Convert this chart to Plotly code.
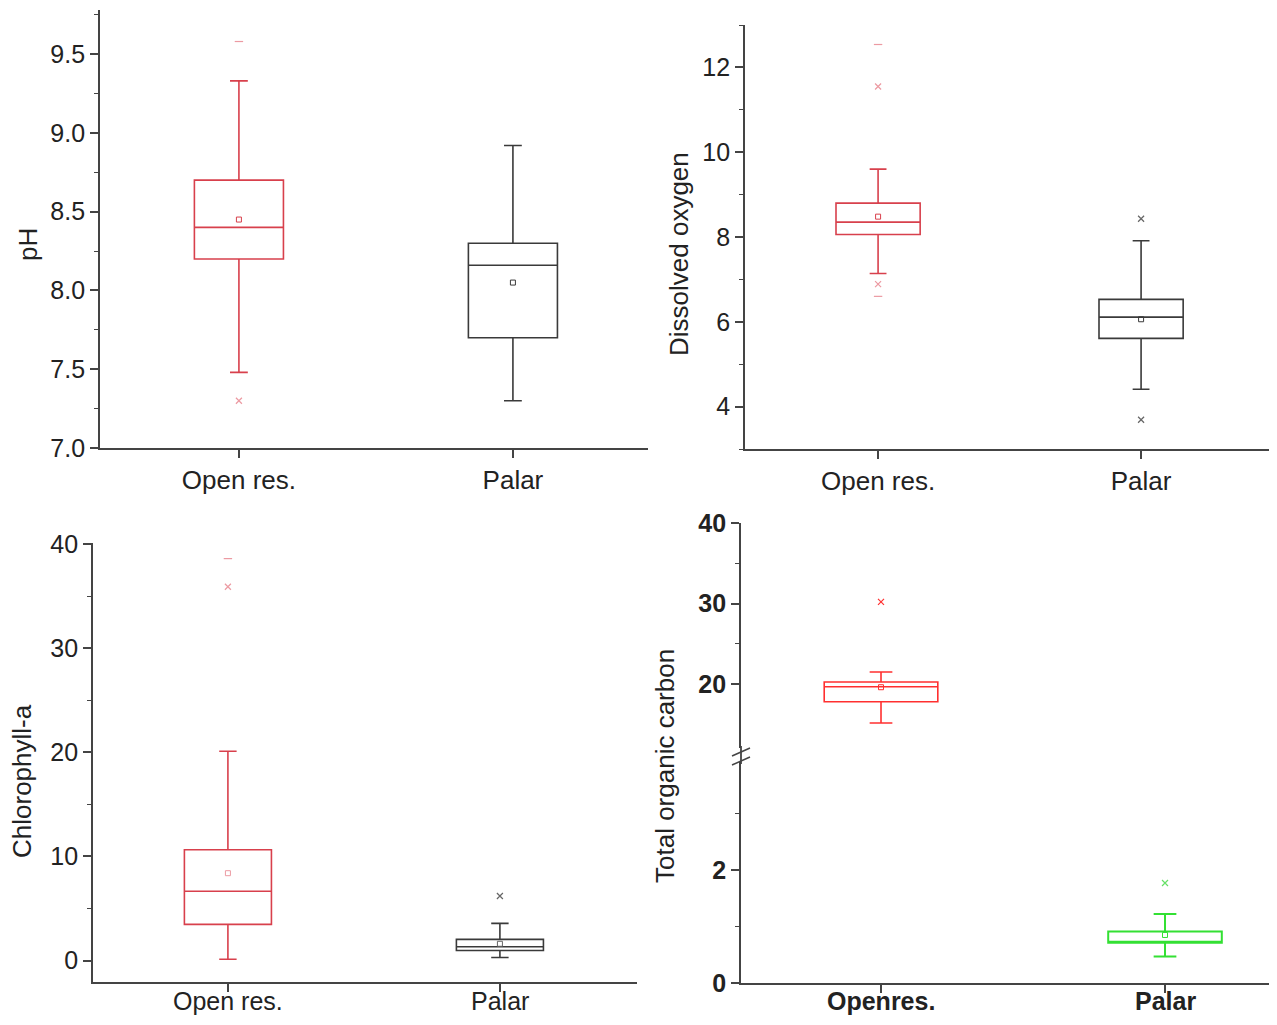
import plotly.graph_objects as go

# Reference canvas 1277x1025; the page body has an 8px margin, so the figure
# is drawn 16px smaller and all reference pixel positions are shifted by 8.
REF_W, REF_H = 1277, 1025
OFF = 8
W, H = REF_W - 2 * OFF, REF_H - 2 * OFF

# ---------------- data ----------------
categories = ["Open res.", "Palar"]
categories_toc = ["Openres.", "Palar"]

ph_q1 = [8.20, 7.70]
ph_median = [8.40, 8.16]
ph_q3 = [8.70, 8.30]
ph_lower = [7.48, 7.30]
ph_upper = [9.33, 8.92]
ph_mean = [8.45, 8.05]
ph_out_open = [7.30]
ph_ext_open = [9.58]

do_q1 = [8.06, 5.61]
do_median = [8.35, 6.11]
do_q3 = [8.80, 6.53]
do_lower = [7.14, 4.41]
do_upper = [9.60, 7.91]
do_mean = [8.48, 6.06]
do_out_open = [11.55, 6.89]
do_out_palar = [8.43, 3.69]
do_ext_open = [12.54, 6.60]

chl_q1 = [3.47, 0.96]
chl_median = [6.66, 1.32]
chl_q3 = [10.64, 2.03]
chl_lower = [0.13, 0.29]
chl_upper = [20.1, 3.57]
chl_mean = [8.39, 1.61]
chl_out_open = [35.9]
chl_out_palar = [6.2]
chl_ext_open = [38.6]

toc_q1 = [17.8, 0.71]
toc_median = [19.66, 0.71]
toc_q3 = [20.25, 0.91]
toc_lower = [15.15, 0.47]
toc_upper = [21.5, 1.22]
toc_mean = [19.6, 0.85]
toc_out_open = [30.2]
toc_out_palar = [1.77]

ph_ticks = [7.0, 7.5, 8.0, 8.5, 9.0, 9.5]
ph_ticktext = ["7.0", "7.5", "8.0", "8.5", "9.0", "9.5"]
ph_minor = [7.25, 7.75, 8.25, 8.75, 9.25, 9.75]
do_ticks = [4, 6, 8, 10, 12]
do_minor = [3, 5, 7, 9, 11, 13]
chl_ticks = [0, 10, 20, 30, 40]
chl_minor = [5, 15, 25, 35]
toc_low_ticks = [0, 2]
toc_low_minor = [1, 3]
toc_up_ticks = [20, 30, 40]
toc_up_minor = [25, 35]

# ---------------- styling ----------------
RED = "#d8404c"
RED_LIGHT = "#ec9aa2"
GREY = "#3a3a3a"
GREY_LIGHT = "#666666"
RED2 = "#ff3030"
GREEN = "#33e033"
GREEN_LIGHT = "#66e066"
AXIS = "#444444"
TXT = "#222222"
FONT = "Liberation Sans, Arial, sans-serif"


def px_x(p):
    return (p - OFF) / W


def px_y(p):
    return 1 - (p - OFF) / H


fig = go.Figure()


def add_box(cat, q1, med, q3, lo, hi, color, width, xa, ya, lw=1.6):
    fig.add_trace(go.Box(
        x=[cat], q1=[q1], median=[med], q3=[q3], lowerfence=[lo], upperfence=[hi],
        boxpoints=False, width=width, whiskerwidth=0.2,
        line=dict(color=color, width=lw), fillcolor="rgba(255,255,255,0)",
        xaxis=xa, yaxis=ya, showlegend=False, hoverinfo="skip"))


def add_pts(cats, vals, symbol, colors, size, xa, ya, lw=1.2):
    fig.add_trace(go.Scatter(
        x=cats, y=vals, mode="markers",
        marker=dict(symbol=symbol, size=size, color=colors,
                    line=dict(color=colors, width=lw)),
        xaxis=xa, yaxis=ya, showlegend=False, hoverinfo="skip"))


# Panel 1: pH
for i, (c, col) in enumerate(zip(categories, [RED, GREY])):
    add_box(c, ph_q1[i], ph_median[i], ph_q3[i], ph_lower[i], ph_upper[i], col, 0.325, "x", "y")
add_pts(categories, ph_mean, "square-open", [RED, GREY], 5, "x", "y", lw=1)
add_pts([categories[0]] * len(ph_out_open), ph_out_open, "x-thin", RED_LIGHT, 6, "x", "y")
add_pts([categories[0]] * len(ph_ext_open), ph_ext_open, "line-ew", RED_LIGHT, 6, "x", "y")

# Panel 2: Dissolved oxygen
for i, (c, col) in enumerate(zip(categories, [RED, GREY])):
    add_box(c, do_q1[i], do_median[i], do_q3[i], do_lower[i], do_upper[i], col, 0.32, "x2", "y2")
add_pts(categories, do_mean, "square-open", [RED, GREY], 5, "x2", "y2", lw=1)
add_pts([categories[0]] * len(do_out_open), do_out_open, "x-thin", RED_LIGHT, 6, "x2", "y2")
add_pts([categories[1]] * len(do_out_palar), do_out_palar, "x-thin", GREY_LIGHT, 6, "x2", "y2")
add_pts([categories[0]] * len(do_ext_open), do_ext_open, "line-ew", RED_LIGHT, 6, "x2", "y2")

# Panel 3: Chlorophyll-a
for i, (c, col) in enumerate(zip(categories, [RED, GREY])):
    add_box(c, chl_q1[i], chl_median[i], chl_q3[i], chl_lower[i], chl_upper[i], col, 0.32, "x3", "y3")
add_pts(categories, chl_mean, "square-open", [RED_LIGHT, GREY_LIGHT], 5, "x3", "y3", lw=1)
add_pts([categories[0]] * len(chl_out_open), chl_out_open, "x-thin", RED_LIGHT, 6, "x3", "y3")
add_pts([categories[1]] * len(chl_out_palar), chl_out_palar, "x-thin", GREY_LIGHT, 6, "x3", "y3")
add_pts([categories[0]] * len(chl_ext_open), chl_ext_open, "line-ew", RED_LIGHT, 6, "x3", "y3")

# Panel 4: Total organic carbon (broken axis: upper y5, lower y4)
add_box(categories_toc[0], toc_q1[0], toc_median[0], toc_q3[0], toc_lower[0], toc_upper[0], RED2, 0.4, "x4", "y5")
add_box(categories_toc[1], toc_q1[1], toc_median[1], toc_q3[1], toc_lower[1], toc_upper[1], GREEN, 0.4, "x4", "y4", lw=2)
add_pts([categories_toc[0]], [toc_mean[0]], "square-open", RED2, 5, "x4", "y5", lw=1)
add_pts([categories_toc[1]], [toc_mean[1]], "square-open", GREEN, 5, "x4", "y4", lw=1)
add_pts([categories_toc[0]] * len(toc_out_open), toc_out_open, "x-thin", RED2, 6, "x4", "y5")
add_pts([categories_toc[1]] * len(toc_out_palar), toc_out_palar, "x-thin", GREEN_LIGHT, 6, "x4", "y4")

# ---------------- axes ----------------
tickfont = dict(family=FONT, size=25, color=TXT)
catfont = dict(family=FONT, size=26, color=TXT)


def xaxis_cfg(x0, x1, rng, cats, anchor, labels=True):
    return dict(domain=[max(0, px_x(x0)), min(1, px_x(x1))], range=rng, type="category",
                categoryorder="array", categoryarray=cats, automargin=False,
                showline=True, linecolor=AXIS, linewidth=1.8, ticks="outside",
                ticklen=8, tickwidth=1.5, tickcolor=AXIS, tickfont=catfont,
                showticklabels=labels,
                showgrid=False, zeroline=False, anchor=anchor, fixedrange=True)


def yaxis_cfg(ytop, ybot, rng, tickvals, ticktext, minor_vals, anchor):
    return dict(domain=[px_y(ybot), px_y(ytop)], range=rng, automargin=False,
                tickmode="array", tickvals=tickvals, ticktext=ticktext,
                showline=True, linecolor=AXIS, linewidth=1.8, ticks="outside",
                ticklen=8, tickwidth=1.5, tickcolor=AXIS, tickfont=tickfont,
                minor=dict(tickmode="array", tickvals=minor_vals, ticks="outside",
                           ticklen=4, tickwidth=1.2, tickcolor=AXIS, showgrid=False),
                showgrid=False, zeroline=False, anchor=anchor, fixedrange=True)


x4_right = REF_W - OFF
x4_range_max = -0.493 + (x4_right - 741) / 284.0

fig.update_layout(
    template="none",
    width=W, height=H, margin=dict(l=0, r=0, t=0, b=0, pad=0, autoexpand=False),
    paper_bgcolor="white", plot_bgcolor="white", showlegend=False,
    xaxis=xaxis_cfg(100, 648, [-0.507, 1.493], categories, "y"),
    yaxis=yaxis_cfg(10, 448, [7.0, 9.78], ph_ticks, ph_ticktext, ph_minor, "x"),
    xaxis2=xaxis_cfg(745, 1269, [-0.506, -0.506 + (1269 - 745) / 263.0], categories, "y2"),
    yaxis2=yaxis_cfg(25, 449, [3.0, 13.0], do_ticks, [str(v) for v in do_ticks], do_minor, "x2"),
    xaxis3=xaxis_cfg(93, 637, [-0.496, 1.504], categories, "y3", labels=False),
    yaxis3=yaxis_cfg(543, 982, [-2.06, 40.1], chl_ticks, [str(v) for v in chl_ticks], chl_minor, "x3"),
    xaxis4=xaxis_cfg(741, x4_right, [-0.493, x4_range_max], categories_toc, "y4", labels=False),
    yaxis4=yaxis_cfg(762, 983, [0, 3.91], toc_low_ticks, ["<b>%d</b>" % v for v in toc_low_ticks], toc_low_minor, "x4"),
    yaxis5=yaxis_cfg(523, 748, [12.05, 40], toc_up_ticks, ["<b>%d</b>" % v for v in toc_up_ticks], toc_up_minor, "x4"),
)

# Bottom-row category labels (placed as annotations so they stay inside the canvas)
for c in categories:
    fig.add_annotation(text=c, x=c, xref="x3", y=px_y(1016), yref="paper",
                       showarrow=False, xanchor="center", yanchor="bottom",
                       borderpad=0, font=dict(family=FONT, size=25, color=TXT))
for c in categories_toc:
    fig.add_annotation(text="<b>%s</b>" % c, x=c, xref="x4", y=px_y(1016), yref="paper",
                       showarrow=False, xanchor="center", yanchor="bottom",
                       borderpad=0, font=dict(family=FONT, size=25, color=TXT))

# Axis titles
titles = [("pH", 28, 245), ("Dissolved oxygen", 679, 254),
          ("Chlorophyll-a", 22, 781), ("Total organic carbon", 665, 766)]
for t, x, y in titles:
    fig.add_annotation(text=t, x=px_x(x), y=px_y(y), xref="paper", yref="paper",
                       showarrow=False, textangle=-90, xanchor="center", yanchor="middle",
                       font=dict(family=FONT, size=26, color=TXT))

# Axis break marks on the TOC y axis
shapes = [
    dict(type="line", xref="paper", yref="paper", x0=px_x(741), x1=px_x(741),
         y0=px_y(746), y1=px_y(764), line=dict(color=AXIS, width=1.8)),
    dict(type="line", xref="paper", yref="paper", x0=px_x(732), x1=px_x(750),
         y0=px_y(756), y1=px_y(748), line=dict(color=AXIS, width=1.5)),
    dict(type="line", xref="paper", yref="paper", x0=px_x(732), x1=px_x(750),
         y0=px_y(765), y1=px_y(757), line=dict(color=AXIS, width=1.5)),
]
fig.update_layout(shapes=shapes)

fig.write_html("out.html")
